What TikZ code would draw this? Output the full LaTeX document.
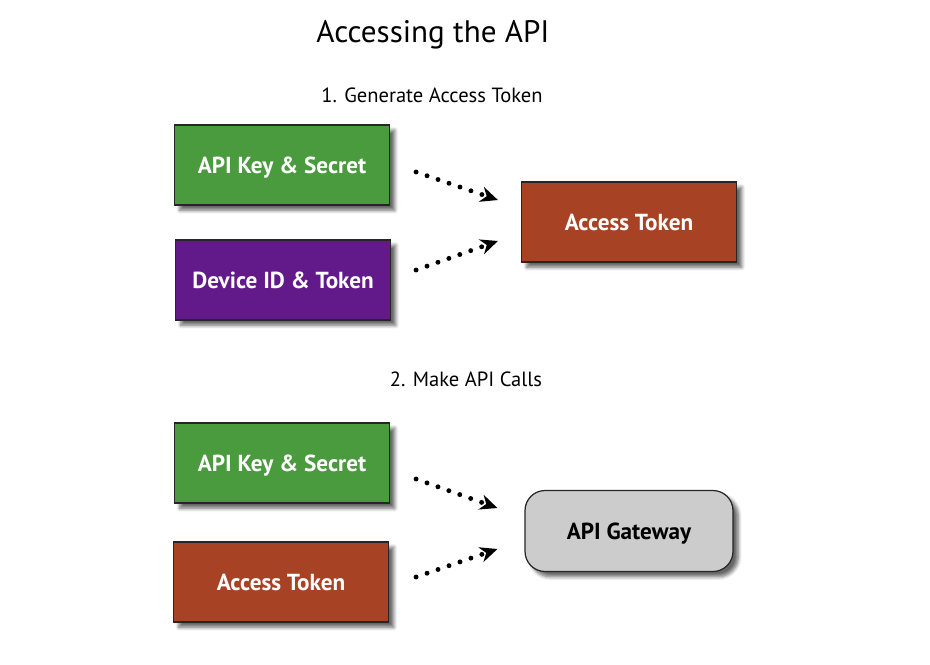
\documentclass[tikz,border=0pt]{standalone}
\usepackage{fontspec}
\setmainfont{PT Sans}
\usetikzlibrary{arrows.meta,positioning,shadows.blur}

\definecolor{keygreen}{RGB}{74,154,62}
\definecolor{devpurple}{RGB}{98,26,138}
\definecolor{tokbrown}{RGB}{168,66,36}
\definecolor{gwgray}{RGB}{204,204,204}

\begin{document}
\begin{tikzpicture}[
    x=0.02cm, y=-0.02cm,
    box/.style={rectangle, draw=black!85, line width=0.7pt, minimum width=4.3cm, minimum height=1.6cm,
        text=white, font=\bfseries\fontsize{13.2}{15}\selectfont, text depth=0pt,
        blur shadow={shadow xshift=3pt, shadow yshift=-3pt, shadow blur steps=6, shadow blur radius=2pt, shadow opacity=60}},
    heading/.style={font=\fontsize{11.7}{14}\selectfont},
    flow/.style={line width=2.8pt, line cap=round, dash pattern=on 0pt off 6.6pt,
        -{Stealth[length=10pt, width=9pt, line width=0pt]}}
]
    \useasboundingbox (0,0) rectangle (930,664);

    \node[font=\fontsize{17.7}{22}\selectfont] (title) at (433,35) {Accessing the API};

    % step 1
    \node[heading] (step1) at (432,95) {1. Generate Access Token};
    \node[box, fill=keygreen] (key1) at (282,165) {API Key \& Secret};
    \node[box, fill=devpurple] (dev) at (283,280) {Device ID \& Token};
    \node[box, fill=tokbrown] (tok1) at (629,222) {Access Token};

    % step 2
    \node[heading] (step2) at (466,379) {2. Make API Calls};
    \node[box, fill=keygreen] (key2) at (282,463) {API Key \& Secret};
    \node[box, fill=tokbrown] (tok2) at (281,582) {Access Token};
    \node[box, fill=gwgray, text=black, rounded corners=0.4cm, minimum width=4.16cm, minimum height=1.62cm] (gw) at (629,531) {API Gateway};

    % free ends of the dotted arrows
    \coordinate (k1) at ([xshift=0.52cm, yshift=-0.14cm]key1.east);
    \coordinate (d1) at ([xshift=0.5cm, yshift=0.2cm]dev.east);
    \coordinate (t1a) at ([xshift=-0.46cm, yshift=0.44cm]tok1.west);
    \coordinate (t1b) at ([xshift=-0.46cm, yshift=-0.38cm]tok1.west);
    \coordinate (k2) at ([xshift=0.52cm, yshift=-0.32cm]key2.east);
    \coordinate (t2) at ([xshift=0.54cm, yshift=0.1cm]tok2.east);
    \coordinate (ga) at ([xshift=-0.54cm, yshift=0.46cm]gw.west);
    \coordinate (gb) at ([xshift=-0.54cm, yshift=-0.36cm]gw.west);

    \draw[flow] (k1) -- (t1a);
    \draw[flow] (d1) -- (t1b);
    \draw[flow] (k2) -- (ga);
    \draw[flow] (t2) -- (gb);
\end{tikzpicture}
\end{document}
